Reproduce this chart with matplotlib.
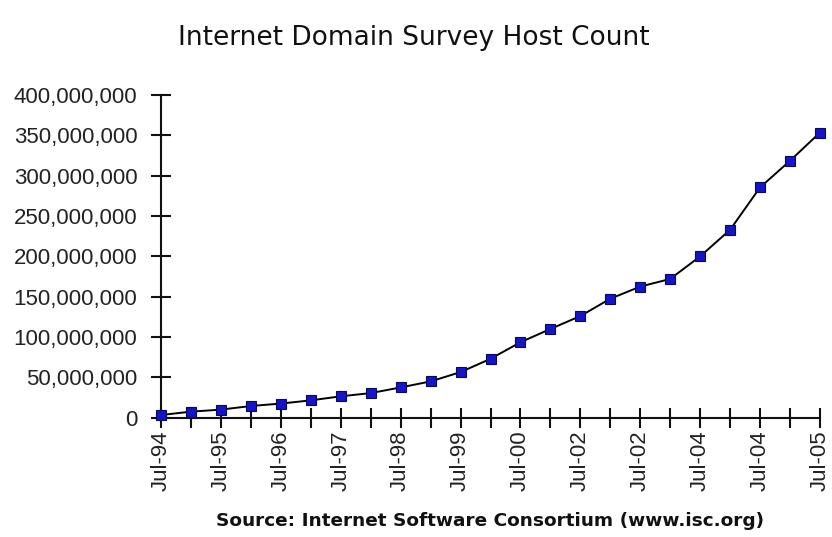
import matplotlib
matplotlib.use("Agg")
import matplotlib.pyplot as plt
from matplotlib.ticker import FuncFormatter

# Semiannual survey points (Jul-94 ... Jul-05), host counts
host_counts = [3.3e6, 7.5e6, 10.0e6, 14.5e6, 17.5e6, 21.5e6, 26.5e6, 30.5e6,
               37.5e6, 45.0e6, 56.5e6, 73.0e6, 93.5e6, 110.0e6, 126.0e6,
               147.5e6, 162.5e6, 172.0e6, 200.0e6, 233.0e6, 285.5e6,
               318.5e6, 353.5e6]
# Category labels as printed on the chart (every other point)
x_labels = ["Jul-94", "Jul-95", "Jul-96", "Jul-97", "Jul-98", "Jul-99",
            "Jul-00", "Jul-02", "Jul-02", "Jul-04", "Jul-04", "Jul-05"]
y_ticks = [0, 50e6, 100e6, 150e6, 200e6, 250e6, 300e6, 350e6, 400e6]

title = "Internet Domain Survey Host Count"
source = "Source: Internet Software Consortium (www.isc.org)"

plt.rcParams['font.family'] = ['DejaVu Sans']

fig = plt.figure(figsize=(8.32, 5.37), dpi=100)
fig.patch.set_facecolor('white')
ax = fig.add_axes([161/832, 1 - 417.7/537, 659/832, (417.7-95)/537])

x = list(range(len(host_counts)))
ax.plot(x, host_counts, color='black', linewidth=1.4, marker='s',
        markersize=7.5, markerfacecolor='#1414c8', markeredgecolor='#0a0a50',
        markeredgewidth=0.8, clip_on=False, zorder=3)

ax.set_xlim(0, len(host_counts) - 1)
ax.set_ylim(0, 400e6)
ax.set_yticks(y_ticks)
ax.yaxis.set_major_formatter(FuncFormatter(lambda v, p: f"{int(v):,}"))
ax.set_xticks(x)
ax.set_xticklabels([x_labels[i // 2] if i % 2 == 0 else "" for i in x],
                   rotation=90)

for s in ['top', 'right']:
    ax.spines[s].set_visible(False)
for s in ['left', 'bottom']:
    ax.spines[s].set_linewidth(1.5)
    ax.spines[s].set_color('#111111')

ax.tick_params(axis='y', direction='inout', length=14, width=1.5,
               labelsize=16, pad=10, colors='#111111', labelcolor='#222222')
ax.tick_params(axis='x', direction='inout', length=14, width=1.5,
               labelsize=16, pad=2, colors='#111111', labelcolor='#222222')
for lab in ax.get_xticklabels() + ax.get_yticklabels():
    lab.set_fontfamily(['Liberation Sans', 'DejaVu Sans'])

fig.text(414/832, 1 - 38/537, title, ha='center', va='center',
         fontsize=19, color='#111111')
fig.text(490/832, 1 - 521/537, source, ha='center', va='center',
         fontsize=13.3, fontweight='bold', color='#111111')

fig.savefig("out.png", dpi=100, facecolor='white')
